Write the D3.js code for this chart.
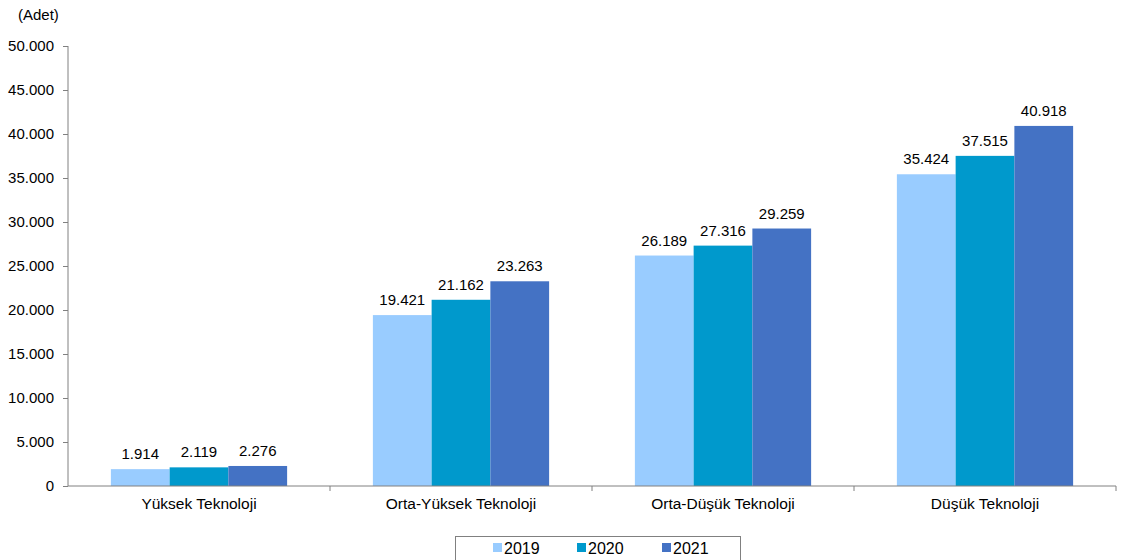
<!DOCTYPE html>
<html><head><meta charset="utf-8">
<script src="https://cdn.jsdelivr.net/npm/d3@7"></script>
<style>body{margin:0;background:#fff;}svg{display:block;font-family:"Liberation Sans",Arial,sans-serif;}</style>
</head><body>
<script>
const categories = ["Yüksek Teknoloji","Orta-Yüksek Teknoloji","Orta-Düşük Teknoloji","Düşük Teknoloji"];
const seriesNames = ["2019","2020","2021"];
const values2019 = [1914,19421,26189,35424];
const values2020 = [2119,21162,27316,37515];
const values2021 = [2276,23263,29259,40918];
const colors = ["#99CCFF","#0099CC","#4472C4"];
const yTicks = [0,5000,10000,15000,20000,25000,30000,35000,40000,45000,50000];
const unitLabel = "(Adet)";

(function(){
const W=1122,H=560;
const svg=d3.select("body").append("svg").attr("width",W).attr("height",H);
const mLeft=68,mRight=1116,mTop=46,mBottom=486;
const fmt=v=>d3.format(",")(v).replace(/,/g,".");
const x=d3.scaleBand().domain(categories).range([mLeft,mRight]).paddingInner(0).paddingOuter(0);
const inner=d3.scaleBand().domain(seriesNames).range([0,x.bandwidth()]).paddingOuter(0.73).paddingInner(0);
const y=d3.scaleLinear().domain([0,50000]).range([mBottom,mTop]);
const data=[values2019,values2020,values2021];

// y axis
const ya=svg.append("g").attr("transform",`translate(${mLeft},0)`)
 .call(d3.axisLeft(y).tickValues(yTicks).tickFormat(fmt).tickSize(5).tickPadding(9));
ya.selectAll("text").attr("font-size",15).attr("fill","#000").attr("font-family","Liberation Sans, Arial, sans-serif");
ya.selectAll("line,path").attr("stroke","#808080");
ya.select(".domain").attr("d",`M0,${mTop}V${mBottom}`);

svg.append("text").attr("x",18).attr("y",20).attr("font-size",15).text(unitLabel);

// bars
seriesNames.forEach((s,si)=>{
  const g=svg.append("g");
  categories.forEach((c,ci)=>{
    const v=data[si][ci];
    const bx=x(c)+inner(s);
    g.append("rect").attr("x",bx).attr("y",y(v)).attr("width",inner.bandwidth()).attr("height",mBottom-y(v)).attr("fill",colors[si]);
    g.append("text").attr("x",bx+inner.bandwidth()/2).attr("y",y(v)-10).attr("text-anchor","middle").attr("font-size",15).attr("fill","#000").text(fmt(v));
  });
});

// x axis
const xg=svg.append("g");
xg.append("line").attr("x1",mLeft).attr("x2",mRight).attr("y1",mBottom).attr("y2",mBottom).attr("stroke","#808080");
categories.forEach((c,i)=>{
  xg.append("line").attr("x1",x(c)+x.bandwidth()).attr("x2",x(c)+x.bandwidth()).attr("y1",mBottom).attr("y2",mBottom+5).attr("stroke","#808080");
  xg.append("text").attr("x",x(c)+x.bandwidth()/2).attr("y",mBottom+23).attr("text-anchor","middle").attr("font-size",15.5).text(c);
});

// legend
const lg=svg.append("g");
lg.append("rect").attr("x",455.5).attr("y",536.5).attr("width",285).attr("height",30).attr("fill","#fff").attr("stroke","#808080");
const lx=[493,577,662];
seriesNames.forEach((s,i)=>{
  lg.append("rect").attr("x",lx[i]).attr("y",543).attr("width",9).attr("height",9).attr("fill",colors[i]);
  lg.append("text").attr("x",lx[i]+11).attr("y",554).attr("font-size",16).text(s);
});
})();
</script>
</body></html>
